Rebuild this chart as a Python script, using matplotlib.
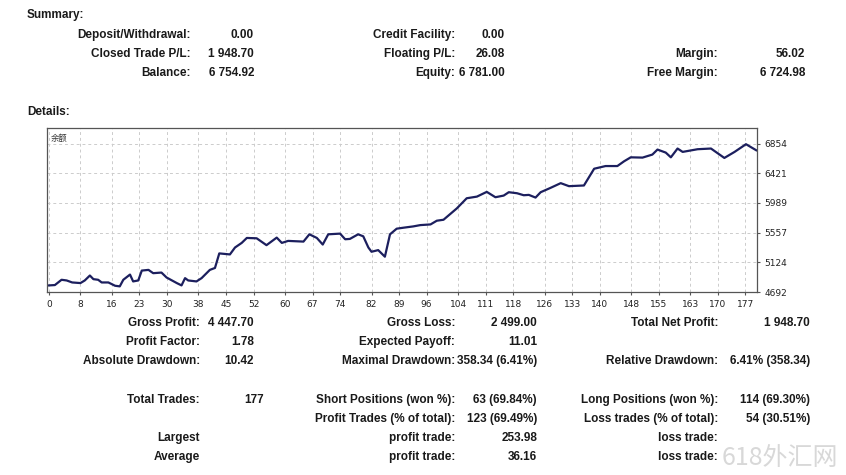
import numpy as np
import matplotlib.pyplot as plt

# balance curve
trade_idx = [0, 1.5, 3.2, 4.5, 5.9, 8.0, 9.1, 10.4, 11.3, 12.5, 13.4, 15.1, 16.8, 18.0, 18.9,
             20.6, 21.4, 22.7, 23.6, 25.3, 26.5, 28.6, 29.9, 32.5, 33.7, 34.6, 35.4, 37.5, 38.8,
             40.9, 42.2, 43.3, 46.0, 47.3, 49.0, 50.3, 52.8, 55.3, 57.9, 59.2, 60.8, 64.7, 66.2,
             68.1, 69.6, 71.0, 74.0, 75.3, 76.5, 78.6, 79.9, 81.2, 82.0, 83.7, 85.4, 86.7, 88.4,
             90.1, 92.6, 94.4, 97.0, 98.6, 100.3, 102.0, 103.7, 106.2, 108.8, 111.3, 113.5, 115.6,
             116.9, 119.0, 120.7, 122.0, 123.7, 125.0, 127.5, 130.1, 132.2, 136.0, 138.6, 141.5,
             144.5, 146.2, 147.9, 150.9, 153.4, 154.7, 156.8, 158.1, 159.8, 161.1, 164.9, 168.3,
             171.7, 174.3, 177.2, 179.8]
balance = [4788, 4793, 4870, 4860, 4831, 4822, 4860, 4932, 4879, 4870, 4831, 4831, 4783, 4774, 4870,
           4946, 4846, 4860, 5004, 5014, 4966, 4975, 4903, 4822, 4788, 4894, 4860, 4846, 4894,
           5014, 5042, 5254, 5239, 5340, 5407, 5479, 5474, 5374, 5484, 5407, 5436, 5426, 5532,
           5479, 5383, 5532, 5542, 5460, 5465, 5532, 5503, 5340, 5278, 5302, 5206, 5532, 5614,
           5628, 5647, 5666, 5676, 5730, 5744, 5827, 5910, 6057, 6081, 6150, 6072, 6096,
           6145, 6130, 6101, 6106, 6067, 6145, 6208, 6277, 6233, 6243, 6487, 6526,
           6526, 6595, 6653, 6649, 6693, 6766, 6722, 6653, 6781, 6732, 6771, 6781,
           6644, 6732, 6844, 6756]
x_ticks = [0, 8, 16, 23, 30, 38, 45, 52, 60, 67, 74, 82, 89, 96, 104, 111, 118, 126, 133, 140,
           148, 155, 163, 170, 177]
y_ticks = [4692, 5124, 5557, 5989, 6421, 6854]

summary = [
    [("Deposit/Withdrawal:", "0.00"), ("Credit Facility:", "0.00"), None],
    [("Closed Trade P/L:", "1 948.70"), ("Floating P/L:", "26.08"), ("Margin:", "56.02")],
    [("Balance:", "6 754.92"), ("Equity:", "6 781.00"), ("Free Margin:", "6 724.98")],
]
details = [
    (323, [("Gross Profit:", "4 447.70"), ("Gross Loss:", "2 499.00"), ("Total Net Profit:", "1 948.70")]),
    (342, [("Profit Factor:", "1.78"), ("Expected Payoff:", "11.01"), None]),
    (361, [("Absolute Drawdown:", "10.42"), ("Maximal Drawdown:", "358.34 (6.41%)"),
           ("Relative Drawdown:", "6.41% (358.34)")]),
    (400, [("Total Trades:", "177"), ("Short Positions (won %):", "63 (69.84%)"),
           ("Long Positions (won %):", "114 (69.30%)")]),
    (419, [None, ("Profit Trades (% of total):", "123 (69.49%)"),
           ("Loss trades (% of total):", "54 (30.51%)")]),
    (438, [("Largest", ""), ("profit trade:", "253.98"), ("loss trade:", "")]),
    (457, [("Average", ""), ("profit trade:", "36.16"), ("loss trade:", "")]),
]

W, H = 846, 475
fig = plt.figure(figsize=(W / 100, H / 100), dpi=100)
fig.patch.set_facecolor("white")
fs = 8.5
font = ["Liberation Sans Narrow", "Liberation Sans"]


def put(x, y, s, ha="right", bold=True):
    fig.text(x / W, 1 - y / H, s, ha=ha, va="center", fontsize=fs, family=font,
             fontweight="bold" if bold else "normal", color="#1a1a1a")


put(27, 15, "Summary:", ha="left")
put(27, 112, "Details:", ha="left")
sum_cols = [(191, 254), (455, 505), (718, 805)]
for r, row in enumerate(summary):
    y = 35 + r * 19
    for (lx, vx), cell in zip(sum_cols, row):
        if cell:
            put(lx, y, cell[0])
            put(vx, y, cell[1])

det_cols = [(200, 254), (455, 537), (718, 810)]
for y, row in details:
    for c, ((lx, vx), cell) in enumerate(zip(det_cols, row)):
        if cell:
            put(lx, y, cell[0])
            if cell[1] == "177":
                put(244, y, cell[1], ha="left")
            elif cell[1]:
                put(vx, y, cell[1])

fig.text(780 / W, 1 - 458 / H, "618外汇网", ha="center", va="center", fontsize=18,
         family=["Noto Sans CJK SC", "DejaVu Sans"], color="#d8d8d8")

# chart
ax = fig.add_axes([47 / W, 1 - 292 / H, (757 - 47) / W, (292 - 128) / H])
ax.plot(trade_idx, balance, color="#1c1f5e", lw=1.6)
ax.set_xlim(-0.5, 180)
ax.set_ylim(4692, 7080)
ax.set_xticks(x_ticks)
ax.set_yticks(y_ticks)
ax.yaxis.tick_right()
ax.tick_params(labelsize=6.5, length=2, color="#555555", labelcolor="#222222")
ax.grid(True, color="#cccccc", linestyle=(0, (3, 3)), lw=0.7)
for sp in ax.spines.values():
    sp.set_color("#555555")
    sp.set_linewidth(0.9)
ax.text(0.005, 0.965, "余额", transform=ax.transAxes, ha="left", va="top", fontsize=6,
        family=["Noto Sans CJK SC", "DejaVu Sans"], color="#333333")

fig.savefig("out.png", dpi=100)
